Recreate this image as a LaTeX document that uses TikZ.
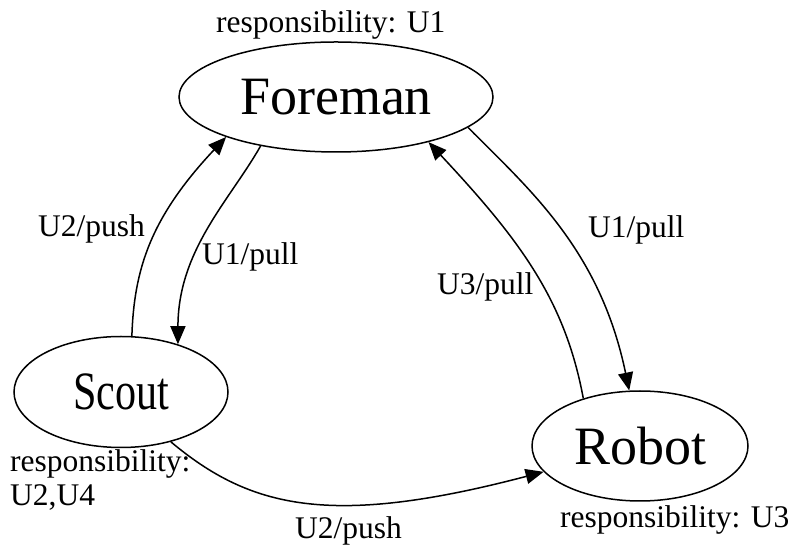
\documentclass[tikz,border=0pt]{standalone}
\usepackage{fontspec}
\setmainfont{Liberation Serif}
\usetikzlibrary{shapes.geometric,arrows.meta}

\tikzset{
  agent/.style={ellipse, draw, line width=1.5pt, inner sep=0pt,
    font=\fontsize{54}{60}\selectfont},
  flow/.style={line width=1.5pt, -{Triangle[length=18pt,width=15pt]}},
  lbl/.style={anchor=base west, inner sep=0pt,
    font=\fontsize{31.5}{34}\selectfont}
}

\begin{document}
\begin{tikzpicture}[x=1pt,y=1pt]
  \useasboundingbox (0,0) rectangle (791,548);

  % agents
  \node[agent, minimum width=314pt, minimum height=110pt] (foreman) at (336,451) {Foreman};
  \node[agent, minimum width=214pt, minimum height=111pt] (scout) at (121,156) {\scalebox{0.78}[1]{Scout}};
  \node[agent, minimum width=216pt, minimum height=110pt] (robot) at (640,102) {Robot};

  % responsibilities
  \node[lbl] (rf) at (216,515) {responsibility: U1};
  \node[lbl] (rs) at (10,76) {\begin{tabular}[t]{@{}l@{}}responsibility:\\U2,U4\end{tabular}};
  \node[lbl] (rr) at (560,21) {responsibility: U3};

  % message flows
  \draw[flow] (scout.79) .. controls (134,278) and (150,330) .. (foreman.200);
  \draw[flow] (foreman.213) .. controls (230,348) and (178,298) .. (scout.40);
  \draw[flow] (foreman.347) .. controls (530,358) and (600,298) .. (robot.101);
  \draw[flow] (robot.140) .. controls (565,248) and (520,308) .. (foreman.334);
  \draw[flow] (scout.-45) .. controls (250,40) and (330,20) .. (robot.195);

  % flow labels
  \node[lbl] (l1) at (38,311) {U2/push};
  \node[lbl] (l2) at (202,283) {U1/pull};
  \node[lbl] (l3) at (588,310) {U1/pull};
  \node[lbl] (l4) at (437,253) {U3/pull};
  \node[lbl] (l5) at (295,10) {U2/push};
\end{tikzpicture}
\end{document}
